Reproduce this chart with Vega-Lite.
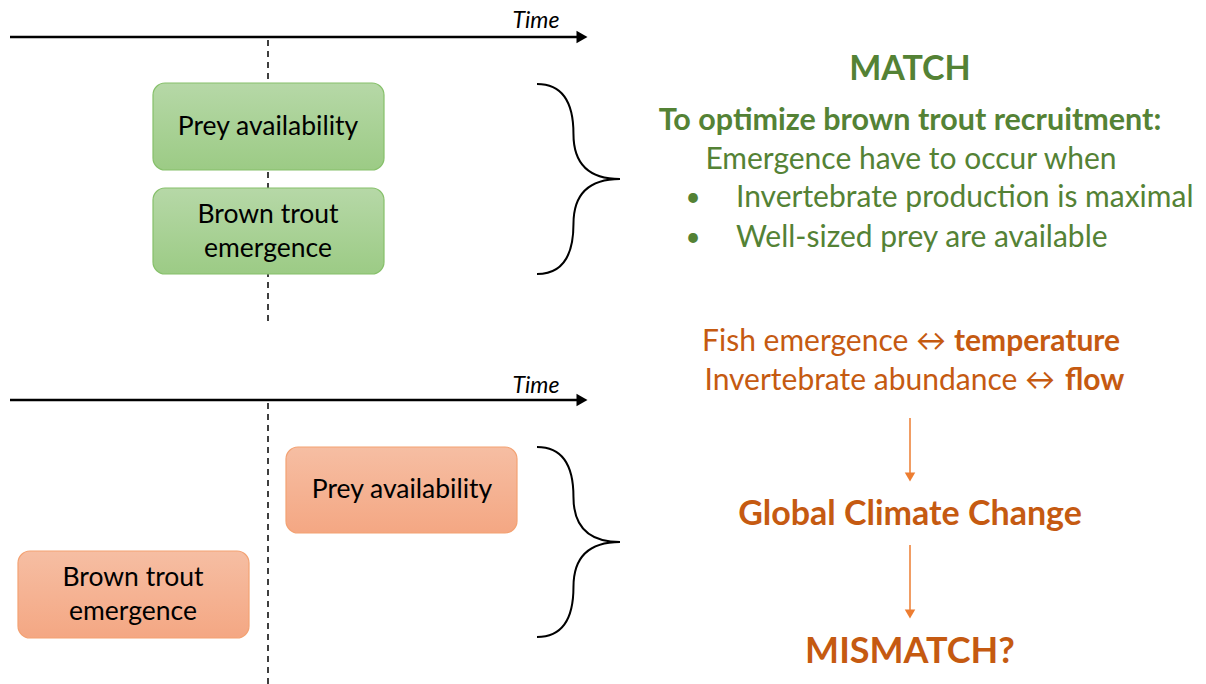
{
  "$schema": "https://vega.github.io/schema/vega-lite/v6.json",
  "width": 1206,
  "height": 684,
  "padding": 0,
  "autosize": {"type": "none"},
  "background": "white",
  "config": {"view": {"stroke": null}, "text": {"font": "Lato"}},
  "layer": [
    {
      "data": {"values": [{"x": 10, "x2": 580, "y": 37}, {"x": 10, "x2": 580, "y": 400}]},
      "mark": {"type": "rule", "color": "black", "strokeWidth": 2.5},
      "encoding": {
        "x": {"field": "x", "type": "quantitative", "scale": {"domain": [0, 1206], "nice": false, "zero": false}, "axis": null},
        "x2": {"field": "x2"},
        "y": {"field": "y", "type": "quantitative", "scale": {"domain": [0, 684], "reverse": true, "nice": false, "zero": false}, "axis": null}
      }
    },
    {
      "data": {"values": [{"x": 582, "y": 37}, {"x": 582, "y": 400}]},
      "mark": {"type": "point", "shape": "triangle-right", "filled": true, "color": "black", "size": 160, "opacity": 1},
      "encoding": {
        "x": {"field": "x", "type": "quantitative"},
        "y": {"field": "y", "type": "quantitative"}
      }
    },
    {
      "data": {"values": [{"x": 536, "y": 21, "label": "Time"}, {"x": 536, "y": 386, "label": "Time"}]},
      "mark": {"type": "text", "fontSize": 23, "fontStyle": "italic", "color": "black", "baseline": "middle", "align": "center"},
      "encoding": {
        "x": {"field": "x", "type": "quantitative"},
        "y": {"field": "y", "type": "quantitative"},
        "text": {"field": "label"}
      }
    },
    {
      "data": {"values": [{"x": 268, "y": 40, "y2": 322}, {"x": 268, "y": 403, "y2": 684}]},
      "mark": {"type": "rule", "color": "black", "strokeWidth": 1.5, "strokeDash": [6, 5]},
      "encoding": {
        "x": {"field": "x", "type": "quantitative"},
        "y": {"field": "y", "type": "quantitative"},
        "y2": {"field": "y2"}
      }
    },
    {
      "data": {"values": [{"x": 153, "x2": 384, "y": 83, "y2": 170}, {"x": 153, "x2": 384, "y": 188, "y2": 274}]},
      "mark": {
        "type": "rect", "cornerRadius": 12, "stroke": "#86c06a", "strokeWidth": 1.2, "opacity": 1,
        "fill": {"gradient": "linear", "x1": 0, "y1": 0, "x2": 0, "y2": 1, "stops": [{"offset": 0, "color": "#b6d8a7"}, {"offset": 1, "color": "#9ccb85"}]}
      },
      "encoding": {
        "x": {"field": "x", "type": "quantitative"},
        "x2": {"field": "x2"},
        "y": {"field": "y", "type": "quantitative"},
        "y2": {"field": "y2"}
      }
    },
    {
      "data": {"values": [{"x": 286, "x2": 517, "y": 447, "y2": 533}, {"x": 18, "x2": 249, "y": 551, "y2": 638}]},
      "mark": {
        "type": "rect", "cornerRadius": 12, "stroke": "#f3a273", "strokeWidth": 1.2, "opacity": 1,
        "fill": {"gradient": "linear", "x1": 0, "y1": 0, "x2": 0, "y2": 1, "stops": [{"offset": 0, "color": "#f6bea3"}, {"offset": 1, "color": "#f4a783"}]}
      },
      "encoding": {
        "x": {"field": "x", "type": "quantitative"},
        "x2": {"field": "x2"},
        "y": {"field": "y", "type": "quantitative"},
        "y2": {"field": "y2"}
      }
    },
    {
      "data": {"values": [
        {"x": 268, "y": 127, "label": "Prey availability"},
        {"x": 268, "y": 215, "label": "Brown trout"},
        {"x": 268, "y": 249, "label": "emergence"},
        {"x": 402, "y": 490, "label": "Prey availability"},
        {"x": 133, "y": 578, "label": "Brown trout"},
        {"x": 133, "y": 612, "label": "emergence"}
      ]},
      "mark": {"type": "text", "fontSize": 26.5, "color": "black", "baseline": "middle", "align": "center"},
      "encoding": {
        "x": {"field": "x", "type": "quantitative"},
        "y": {"field": "y", "type": "quantitative"},
        "text": {"field": "label"}
      }
    },
    {
      "data": {"values": [{"x": 578.5, "y": 179}, {"x": 578.5, "y": 542}]},
      "mark": {
        "type": "point", "filled": false, "color": "black", "strokeWidth": 2, "opacity": 1, "size": 36100,
        "shape": "M -0.437 -1 C -0.158 -1 -0.053 -0.789 -0.053 -0.474 C -0.053 -0.158 0.105 0 0.437 0 C 0.105 0 -0.053 0.158 -0.053 0.474 C -0.053 0.789 -0.158 1 -0.437 1"
      },
      "encoding": {
        "x": {"field": "x", "type": "quantitative"},
        "y": {"field": "y", "type": "quantitative"}
      }
    },
    {
      "data": {"values": [{"x": 910, "y": 70, "label": "MATCH"}]},
      "mark": {"type": "text", "fontSize": 34, "fontWeight": "bold", "color": "#548235", "baseline": "middle", "align": "center"},
      "encoding": {
        "x": {"field": "x", "type": "quantitative"},
        "y": {"field": "y", "type": "quantitative"},
        "text": {"field": "label"}
      }
    },
    {
      "data": {"values": [{"x": 910, "y": 121, "label": "To optimize brown trout recruitment:"}]},
      "mark": {"type": "text", "fontSize": 30.5, "fontWeight": "bold", "color": "#548235", "baseline": "middle", "align": "center"},
      "encoding": {
        "x": {"field": "x", "type": "quantitative"},
        "y": {"field": "y", "type": "quantitative"},
        "text": {"field": "label"}
      }
    },
    {
      "data": {"values": [{"x": 911, "y": 160, "label": "Emergence have to occur when"}]},
      "mark": {"type": "text", "fontSize": 30, "color": "#548235", "baseline": "middle", "align": "center"},
      "encoding": {
        "x": {"field": "x", "type": "quantitative"},
        "y": {"field": "y", "type": "quantitative"},
        "text": {"field": "label"}
      }
    },
    {
      "data": {"values": [
        {"x": 693, "y": 198, "label": "•"},
        {"x": 693, "y": 238, "label": "•"}
      ]},
      "mark": {"type": "text", "fontSize": 26, "color": "#548235", "baseline": "middle", "align": "center"},
      "encoding": {
        "x": {"field": "x", "type": "quantitative"},
        "y": {"field": "y", "type": "quantitative"},
        "text": {"field": "label"}
      }
    },
    {
      "data": {"values": [
        {"x": 736, "y": 198, "label": "Invertebrate production is maximal"},
        {"x": 736, "y": 238, "label": "Well-sized prey are available"}
      ]},
      "mark": {"type": "text", "fontSize": 30, "color": "#548235", "baseline": "middle", "align": "left"},
      "encoding": {
        "x": {"field": "x", "type": "quantitative"},
        "y": {"field": "y", "type": "quantitative"},
        "text": {"field": "label"}
      }
    },
    {
      "data": {"values": [
        {"x": 946, "y": 342, "label": "Fish emergence ↔"},
        {"x": 1055, "y": 381, "label": "Invertebrate abundance ↔"}
      ]},
      "mark": {"type": "text", "fontSize": 30, "color": "#c55a11", "baseline": "middle", "align": "right"},
      "encoding": {
        "x": {"field": "x", "type": "quantitative"},
        "y": {"field": "y", "type": "quantitative"},
        "text": {"field": "label"}
      }
    },
    {
      "data": {"values": [
        {"x": 954, "y": 342, "label": "temperature"},
        {"x": 1065, "y": 381, "label": "flow"}
      ]},
      "mark": {"type": "text", "fontSize": 30, "fontWeight": "bold", "color": "#c55a11", "baseline": "middle", "align": "left"},
      "encoding": {
        "x": {"field": "x", "type": "quantitative"},
        "y": {"field": "y", "type": "quantitative"},
        "text": {"field": "label"}
      }
    },
    {
      "data": {"values": [{"x": 910, "y": 418, "y2": 474}, {"x": 910, "y": 545, "y2": 610}]},
      "mark": {"type": "rule", "color": "#ed7d31", "strokeWidth": 1.5},
      "encoding": {
        "x": {"field": "x", "type": "quantitative"},
        "y": {"field": "y", "type": "quantitative"},
        "y2": {"field": "y2"}
      }
    },
    {
      "data": {"values": [{"x": 910, "y": 477}, {"x": 910, "y": 614}]},
      "mark": {"type": "point", "shape": "triangle-down", "filled": true, "color": "#ed7d31", "size": 110, "opacity": 1},
      "encoding": {
        "x": {"field": "x", "type": "quantitative"},
        "y": {"field": "y", "type": "quantitative"}
      }
    },
    {
      "data": {"values": [{"x": 910, "y": 515, "label": "Global Climate Change"}]},
      "mark": {"type": "text", "fontSize": 34, "fontWeight": "bold", "color": "#c55a11", "baseline": "middle", "align": "center"},
      "encoding": {
        "x": {"field": "x", "type": "quantitative"},
        "y": {"field": "y", "type": "quantitative"},
        "text": {"field": "label"}
      }
    },
    {
      "data": {"values": [{"x": 910, "y": 652, "label": "MISMATCH?"}]},
      "mark": {"type": "text", "fontSize": 36, "fontWeight": "bold", "color": "#c55a11", "baseline": "middle", "align": "center"},
      "encoding": {
        "x": {"field": "x", "type": "quantitative"},
        "y": {"field": "y", "type": "quantitative"},
        "text": {"field": "label"}
      }
    }
  ]
}
